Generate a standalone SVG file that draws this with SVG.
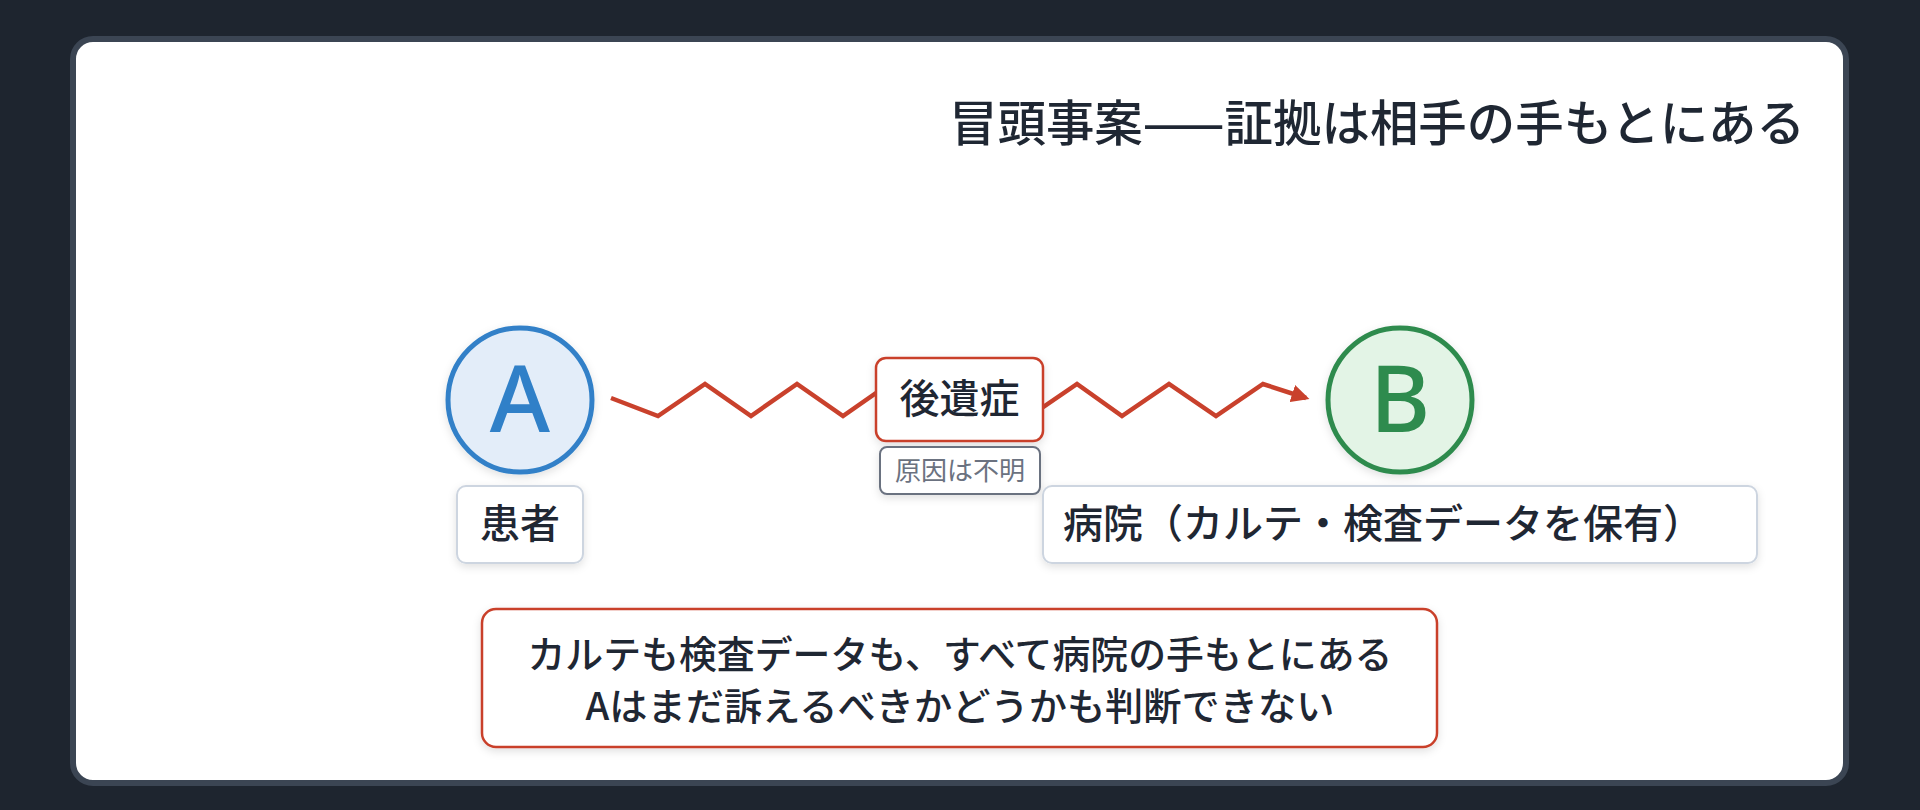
<svg xmlns="http://www.w3.org/2000/svg" width="1920" height="810" viewBox="0 0 1920 810">
<style>
  text { font-family: "Noto Sans CJK JP", "Noto Sans", sans-serif; fill: #1f2733; }
  .t40 { font-size: 40px; font-weight: 500; }
  .t38 { font-size: 38px; font-weight: 500; }
  .title { font-size: 49px; font-weight: 500; }
  .letter { font-size: 92px; font-weight: 500; font-family: "Noto Sans", "Noto Sans CJK JP", sans-serif; }
  .lbl { fill: #ffffff; stroke: #cdd5e0; stroke-width: 2; }
  .red { fill: #ffffff; stroke: #c9412c; stroke-width: 2.5; }
</style>
<defs>
  <filter id="sh" x="-20%" y="-20%" width="140%" height="160%">
    <feDropShadow dx="0" dy="3" stdDeviation="4" flood-color="#000000" flood-opacity="0.12"/>
  </filter>
  <marker id="arr" viewBox="0 0 10 10" refX="8" refY="5" markerWidth="4" markerHeight="4" orient="auto" markerUnits="strokeWidth">
    <path d="M0,0 L10,5 L0,10 z" fill="#c9412c"/>
  </marker>
</defs>
<rect width="1920" height="810" fill="#1e252f"/>
<rect x="73" y="39" width="1773" height="744" rx="20" fill="#ffffff" stroke="#3b4553" stroke-width="6"/>

<g id="title">
  <text class="title" x="1805" y="141" text-anchor="end" textLength="856" lengthAdjust="spacingAndGlyphs">冒頭事案——証拠は相手の手もとにある</text>
</g>

<g id="connectors">
  <polyline points="611,398 658,416 705,384 751,416 797,384 843,416 889,384 935,416 981,384 1030,416 1077,384 1122,416 1169,384 1216,416 1263,384 1306,398" fill="none" stroke="#c9412c" stroke-width="4.5" stroke-linejoin="miter" marker-end="url(#arr)"/>
</g>

<g id="nodeA">
  <circle cx="520" cy="400" r="72" fill="#e3edf9" stroke="#3080c8" stroke-width="5" filter="url(#sh)"/>
  <text class="letter" x="520" y="432" text-anchor="middle" style="fill:#3080c8">A</text>
</g>
<g id="labelA">
  <rect class="lbl" x="457" y="486" width="126" height="77" rx="9" filter="url(#sh)"/>
  <text class="t40" x="520" y="538" text-anchor="middle">患者</text>
</g>

<g id="nodeSequela">
  <rect class="red" x="876" y="358" width="167" height="83" rx="10" filter="url(#sh)"/>
  <text class="t40" x="959.5" y="413" text-anchor="middle">後遺症</text>
</g>
<g id="labelCause">
  <rect x="880" y="447" width="160" height="47" rx="7" fill="#ffffff" stroke="#6b7280" stroke-width="2" filter="url(#sh)"/>
  <text x="960" y="480" text-anchor="middle" style="font-size:26px;fill:#6b7280">原因は不明</text>
</g>

<g id="nodeB">
  <circle cx="1400" cy="400" r="72" fill="#e3f4e6" stroke="#2e8b4e" stroke-width="5" filter="url(#sh)"/>
  <text class="letter" x="1400" y="432" text-anchor="middle" style="fill:#2e8b4e">B</text>
</g>
<g id="labelB">
  <rect class="lbl" x="1043" y="486" width="714" height="77" rx="9" filter="url(#sh)"/>
  <text class="t40" x="1063" y="538">病院（カルテ・検査データを保有）</text>
</g>

<g id="note">
  <rect class="red" x="482" y="609" width="955" height="138" rx="14" filter="url(#sh)"/>
  <text class="t38" x="960" y="668" text-anchor="middle" textLength="865" lengthAdjust="spacingAndGlyphs">カルテも検査データも、すべて病院の手もとにある</text>
  <text class="t38" x="960" y="720" text-anchor="middle" textLength="749" lengthAdjust="spacingAndGlyphs">Aはまだ訴えるべきかどうかも判断できない</text>
</g>
</svg>
